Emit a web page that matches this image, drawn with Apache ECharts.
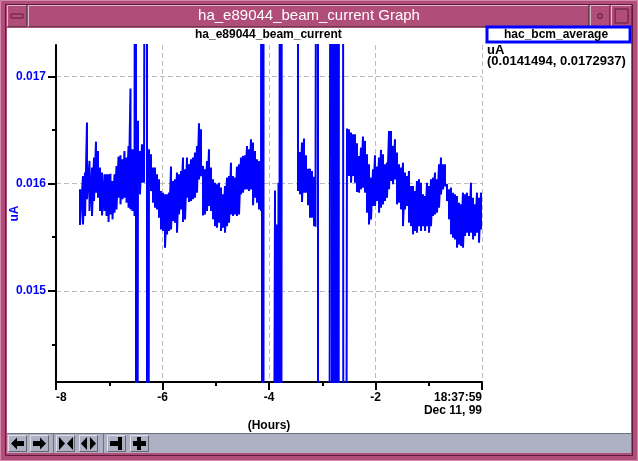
<!DOCTYPE html>
<html><head><meta charset="utf-8">
<script src="https://cdn.jsdelivr.net/npm/echarts@6/dist/echarts.min.js"></script>
<style>html,body{margin:0;padding:0;background:#fff}#c{width:638px;height:461px}</style>
</head><body><div id="c"></div>
<script>
// ---- data (hours before 18:37:59 Dec 11, 99; value in uA) ----
// each sample: hours, upper envelope, lower envelope (0.03 / 0 = off-scale glitch)
const hours = [
-7.549,-7.493,-7.455,-7.418,-7.371,-7.324,-7.286,-7.249,-7.211,-7.174,
-7.136,-7.089,-7.052,-7.014,-6.977,-6.939,-6.901,-6.864,-6.826,-6.789,
-6.751,-6.714,-6.676,-6.638,-6.601,-6.563,-6.526,-6.498,-6.460,-6.423,
-6.385,-6.347,-6.291,-6.254,-6.216,-6.178,-6.141,-6.103,-6.066,-6.028,
-5.991,-5.953,-5.915,-5.878,-5.840,-5.803,-5.765,-5.728,-5.690,-5.652,
-5.615,-5.577,-5.540,-5.502,-5.465,-5.427,-5.390,-5.352,-5.314,-5.277,
-5.239,-5.202,-5.164,-5.127,-5.089,-5.052,-5.014,-4.977,-4.939,-4.901,
-4.864,-4.826,-4.789,-4.751,-4.714,-4.676,-4.638,-4.601,-4.563,-4.526,
-4.488,-4.451,-4.413,-4.376,-4.338,-4.300,-4.263,-4.225,-4.188,-4.150,
-4.131,-4.103,-4.075,-3.980,-3.887,-3.850,-3.822,-3.784,-3.746,-3.600,
-3.455,-3.418,-3.380,-3.343,-3.305,-3.268,-3.230,-3.192,-3.155,-3.127,
-3.080,-3.000,-2.900,-2.817,-2.789,-2.761,-2.732,-2.704,-2.676,-2.620,
-2.592,
-2.535,-2.498,-2.460,-2.422,-2.385,-2.347,-2.310,-2.272,-2.235,-2.197,
-2.160,-2.122,-2.084,-2.047,-2.009,-1.972,-1.934,-1.897,-1.859,-1.822,
-1.784,-1.746,-1.709,-1.671,-1.634,-1.596,-1.559,-1.521,-1.484,-1.446,
-1.408,-1.371,-1.333,-1.296,-1.258,-1.221,-1.183,-1.146,-1.108,-1.070,
-1.033,-0.995,-0.958,-0.920,-0.883,-0.845,-0.807,-0.770,-0.732,-0.695,
-0.657,-0.620,-0.582,-0.545,-0.507,-0.469,-0.432,-0.394,-0.357,-0.319,
-0.282,-0.244,-0.207,-0.169,-0.131,-0.094,-0.056,-0.019
];
const upper = [
0.015947,0.016072,0.016103,0.016570,0.016212,0.016150,0.016243,0.016392,0.016305,0.016150,
0.016103,0.016087,0.016087,0.016087,0.016093,0.016025,0.016087,0.016165,0.016252,0.016265,
0.016227,0.016305,0.016243,0.016352,0.016888,0.016321,0.016212,0.030,0.016586,0.016305,
0.016368,0.016368,0.030,0.016321,0.016274,0.016150,0.016150,0.016087,0.016040,0.015931,
0.015916,0.015900,0.015900,0.015916,0.016159,0.016025,0.016040,0.016103,0.016087,0.016118,
0.016243,0.016134,0.016243,0.016181,0.016227,0.016243,0.016290,0.016352,0.016564,0.016508,
0.016165,0.016134,0.016212,0.016321,0.016150,0.016040,0.016009,0.015994,0.016009,0.015963,
0.015900,0.015978,0.016056,0.016072,0.016196,0.016072,0.016056,0.016159,0.016181,0.016243,
0.016259,0.016265,0.016352,0.016321,0.016414,0.016383,0.016305,0.016227,0.016212,0.016150,
0.030,0.030,0.0,0.0,0.015937,0.015620,0.016009,0.030,0.030,0.030,
0.030,0.016296,0.016383,0.016421,0.016265,0.016140,0.016140,0.016118,0.016065,0.016040,
0.030,0.0,0.0,0.030,0.030,0.030,0.030,0.030,0.030,0.030,
0.030,
0.016514,0.016508,0.016477,0.016461,0.016461,0.016377,0.016259,0.016336,0.016439,0.016399,
0.016274,0.016181,0.016056,0.016134,0.016265,0.016159,0.016243,0.016315,0.016274,0.016181,
0.016196,0.016492,0.016492,0.016352,0.016414,0.016290,0.016181,0.016150,0.016196,0.016103,
0.016072,0.016118,0.015978,0.015978,0.015931,0.016025,0.016040,0.016009,0.015900,0.015885,
0.016009,0.015978,0.016040,0.016056,0.016103,0.016040,0.016181,0.016243,0.016181,0.016181,
0.015994,0.015947,0.015963,0.015916,0.015900,0.015885,0.015822,0.015807,0.015916,0.015900,
0.015916,0.015885,0.016009,0.015869,0.015807,0.015916,0.015869,0.015916
];
const lower = [
0.015614,0.015620,0.015698,0.015854,0.015745,0.015698,0.015838,0.015916,0.015869,0.015745,
0.015704,0.015745,0.015698,0.015642,0.015713,0.015667,0.015729,0.015760,0.015869,0.015807,
0.015854,0.015869,0.015822,0.015776,0.015760,0.015745,0.015698,0.0,0.016009,0.015900,
0.016009,0.016009,0.0,0.015978,0.015931,0.015822,0.015776,0.015760,0.015682,0.015573,
0.015558,0.015402,0.015527,0.015558,0.015573,0.015651,0.015636,0.015542,0.015713,0.015760,
0.015642,0.015667,0.015869,0.015829,0.015838,0.015854,0.015869,0.015916,0.016040,0.016072,
0.015704,0.015713,0.015745,0.015791,0.015745,0.015667,0.015604,0.015589,0.015636,0.015558,
0.015589,0.015542,0.015604,0.015636,0.015713,0.015698,0.015713,0.015698,0.015713,0.015900,
0.015916,0.015947,0.015947,0.015931,0.015947,0.015798,0.015869,0.015822,0.015760,0.015745,
0.0,0.0,0.0,0.0,0.0,0.0,0.0,0.0,0.030,0.030,
0.015931,0.015900,0.015829,0.015916,0.015916,0.015798,0.015682,0.015682,0.015604,0.015598,
0.0,0.0,0.0,0.0,0.0,0.0,0.0,0.0,0.030,0.030,
0.0,
0.016103,0.016072,0.016009,0.016072,0.016009,0.015922,0.015916,0.015947,0.015963,0.015916,
0.015729,0.015620,0.015667,0.015791,0.015791,0.015838,0.015729,0.015776,0.015807,0.015838,
0.015869,0.015947,0.016025,0.015994,0.016040,0.015807,0.015822,0.015760,0.015604,0.015760,
0.015791,0.015636,0.015604,0.015527,0.015558,0.015542,0.015604,0.015558,0.015604,0.015558,
0.015604,0.015542,0.015604,0.015698,0.015713,0.015729,0.015776,0.015900,0.015947,0.015978,
0.015838,0.015667,0.015527,0.015495,0.015480,0.015402,0.015433,0.015418,0.015402,0.015511,
0.015542,0.015511,0.015542,0.015480,0.015511,0.015542,0.015449,0.015573
];
const yMajorTicks = [0.015, 0.016, 0.017];
const yMinorTicks = [0.0145, 0.0155, 0.0165];
const yRange = [0.0141494, 0.0172937];
const xEndLabel = '18:37:59\nDec 11, 99';
const seriesName = 'hac_bcm_average';
const chartTitle = 'ha_e89044_beam_current';
const windowTitle = 'ha_e89044_beam_current Graph';

const points = [];
for (let i = 0; i < hours.length; i++) {
  points.push([hours[i], upper[i]]);
  points.push([hours[i], lower[i]]);
}

const FONT = 'Liberation Sans';
const FRAME = '#b14d79', LIGHT = '#d486ab', DARK = '#5e1a3a', TB = '#aeb1c4';

function bevel(x, y, w, h, fill, z) {
  return [
    {type:'rect', shape:{x, y, width:w, height:h}, style:{fill}, z, silent:true},
    {type:'polyline', shape:{points:[[x+0.5,y+h-0.5],[x+0.5,y+0.5],[x+w-0.5,y+0.5]]}, style:{stroke:'#ffffff', lineWidth:1, fill:null, opacity:0.6}, z, silent:true},
    {type:'polyline', shape:{points:[[x+0.5,y+h-0.5],[x+w-0.5,y+h-0.5],[x+w-0.5,y+0.5]]}, style:{stroke:'#333', lineWidth:1, fill:null, opacity:0.6}, z, silent:true}
  ];
}
const g = [];
g.push({type:'rect', shape:{x:0,y:0,width:638,height:461}, style:{fill:FRAME}, z:-20, silent:true});
g.push({type:'rect', shape:{x:0.5,y:0.5,width:637,height:460}, style:{fill:null, stroke:LIGHT, lineWidth:1}, z:-19, silent:true});
g.push({type:'rect', shape:{x:5.5,y:4.5,width:627,height:451}, style:{fill:null, stroke:DARK, lineWidth:1}, z:-19, silent:true});
g.push(...bevel(7, 5, 20, 22, FRAME, -18));
g.push({type:'rect', shape:{x:11,y:14,width:12,height:4}, style:{fill:FRAME, stroke:DARK, lineWidth:1}, z:-17, silent:true});
g.push(...bevel(28, 5, 561, 22, FRAME, -18));
g.push(...bevel(590, 5, 20, 22, FRAME, -18));
g.push({type:'rect', shape:{x:598,y:14,width:4,height:4}, style:{fill:FRAME, stroke:DARK, lineWidth:1}, z:-17, silent:true});
g.push(...bevel(611, 5, 21, 22, FRAME, -18));
g.push({type:'rect', shape:{x:615,y:9,width:13,height:14}, style:{fill:FRAME, stroke:DARK, lineWidth:1}, z:-17, silent:true});
g.push({type:'text', x:309, y:16, style:{text:windowTitle, fill:'#ffffff', font:'15px "'+FONT+'"', align:'center', verticalAlign:'middle'}, z:-16, silent:true});
g.push({type:'rect', shape:{x:7,y:28,width:624,height:405}, style:{fill:'#ffffff'}, z:-18, silent:true});
g.push({type:'rect', shape:{x:7,y:433,width:624,height:20}, style:{fill:TB}, z:-18, silent:true});
g.push({type:'line', shape:{x1:7,y1:433.5,x2:631,y2:433.5}, style:{stroke:'#6d7080', lineWidth:1}, z:-17, silent:true});
const btnX = [8, 30, 56, 79, 107, 130];
btnX.forEach(x => g.push(...bevel(x, 435, 19, 17, TB, -17)));
g.push({type:'line', shape:{x1:53.5,y1:434,x2:53.5,y2:453}, style:{stroke:'#6d7080'}, z:-17, silent:true});
g.push({type:'line', shape:{x1:103.5,y1:434,x2:103.5,y2:453}, style:{stroke:'#6d7080'}, z:-17, silent:true});
const ic = (pts) => ({type:'polygon', shape:{points:pts}, style:{fill:'#000'}, z:-16, silent:true});
g.push(ic([[11,443.5],[17,437.5],[17,441],[24,441],[24,446],[17,446],[17,449.5]]));
g.push(ic([[46,443.5],[40,437.5],[40,441],[33,441],[33,446],[40,446],[40,449.5]]));
g.push(ic([[59,437],[65,443.5],[59,450]]));
g.push(ic([[73,437],[67,443.5],[73,450]]));
g.push(ic([[87,437],[81,443.5],[87,450]]));
g.push(ic([[90,437],[96,443.5],[90,450]]));
g.push(ic([[110,441],[118,441],[118,437],[122,437],[122,450],[118,450],[118,446],[110,446]]));
g.push(ic([[137,437],[141,437],[141,441],[146,441],[146,446],[141,446],[141,450],[137,450],[137,446],[133,446],[133,441],[137,441]]));
g.push({type:'text', x:487, y:50, style:{text:'uA', fill:'#000', font:'bold 13px "'+FONT+'"', align:'left', verticalAlign:'middle'}, z:10});
g.push({type:'text', x:487, y:61, style:{text:'(' + yRange[0] + ', ' + yRange[1] + ')', fill:'#000', font:'bold 13px "'+FONT+'"', align:'left', verticalAlign:'middle'}, z:10});

const gridBox = {left: 56, right: 156, top: 45, bottom: 79, containLabel: false, outerBoundsMode: 'none'};
const chart = echarts.init(document.getElementById('c'), null, {renderer:'canvas'});
chart.setOption({
  animation: false,
  backgroundColor: 'transparent',
  title: {text: chartTitle, left: 195, top: 29, padding: 0,
    textStyle: {fontFamily: FONT, fontWeight: 'bold', fontSize: 12, color: '#000'}},
  legend: {data: [seriesName], left: 487, top: 27, icon: 'rect', itemWidth: 0, itemHeight: 0,
    padding: [2, 22, 1, 12], borderColor: '#0000ff', borderWidth: 3, backgroundColor: '#fff',
    selectedMode: false, textStyle: {fontFamily: FONT, fontWeight: 'bold', fontSize: 12, color: '#000'}},
  grid: [Object.assign({}, gridBox), Object.assign({}, gridBox)],
  xAxis: [{
    type: 'value', min: -8, max: 0, interval: 2, gridIndex: 0,
    name: '(Hours)', nameLocation: 'middle', nameGap: 38, nameMoveOverlap: false,
    nameTextStyle: {fontFamily: FONT, fontWeight: 'bold', fontSize: 12, color: '#000'},
    axisLine: {show: true, onZero: false, lineStyle: {color: '#000', width: 2}},
    axisTick: {show: true, length: 8, lineStyle: {color: '#000', width: 2}},
    minorTick: {show: true, splitNumber: 2, length: 4, lineStyle: {color: '#000', width: 2}},
    splitLine: {show: true, lineStyle: {color: '#bdbdbd', type: [5, 3], width: 1}},
    axisLabel: {fontFamily: FONT, fontWeight: 'bold', fontSize: 12, color: '#000', margin: 9, lineHeight: 13,
      alignMinLabel: 'left', alignMaxLabel: 'right',
      formatter: v => (v === 0 ? xEndLabel : String(v))}
  }, {
    type: 'value', min: -8, max: 0, gridIndex: 1, show: false
  }],
  yAxis: [{
    type: 'value', min: yRange[0], max: yRange[1], gridIndex: 0,
    name: 'uA', nameLocation: 'middle', nameGap: 35, nameRotate: 90, nameMoveOverlap: false,
    nameTextStyle: {fontFamily: FONT, fontWeight: 'bold', fontSize: 12, color: '#0000ff'},
    axisLine: {show: true, onZero: false, lineStyle: {color: '#000', width: 2}},
    axisTick: {show: true, length: 8, customValues: yMajorTicks, lineStyle: {color: '#000', width: 2}},
    splitLine: {show: true, lineStyle: {color: '#bdbdbd', type: [5, 3], width: 1}},
    axisLabel: {customValues: yMajorTicks, fontFamily: FONT, fontWeight: 'bold', fontSize: 12, color: '#0000ff', margin: 10,
      formatter: v => v.toFixed(3)}
  }, {
    type: 'value', min: yRange[0], max: yRange[1], gridIndex: 1, position: 'left',
    axisLine: {show: false, onZero: false}, axisLabel: {show: false}, splitLine: {show: false},
    axisTick: {show: true, length: 4, customValues: yMinorTicks, lineStyle: {color: '#000', width: 2}}
  }],
  series: [{
    name: seriesName, type: 'line', data: points, xAxisIndex: 0, yAxisIndex: 0,
    showSymbol: false, symbol: 'none', clip: true,
    lineStyle: {color: '#0000ff', width: 2}, itemStyle: {color: '#0000ff'}
  }],
  graphic: {elements: g}
});
</script></body></html>
